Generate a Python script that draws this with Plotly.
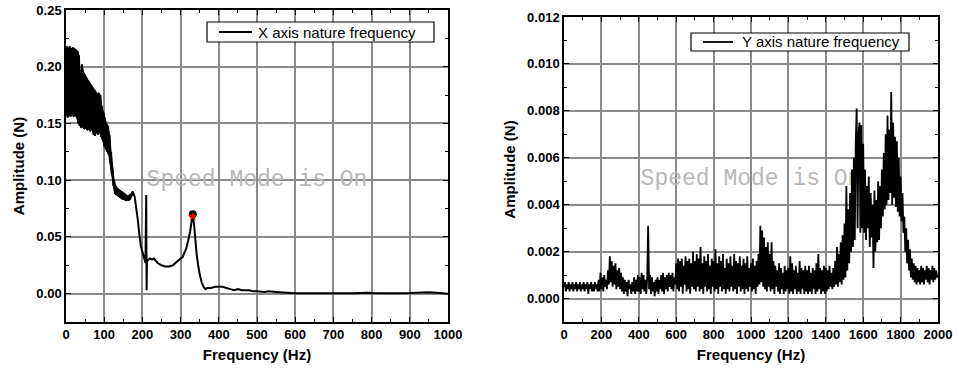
import plotly.graph_objects as go

# ---------------- Left chart: X axis nature frequency ----------------
# dense (noisy) part, read every 2 Hz from 0 to 178 Hz (alternating trough / crest)
x_dense_freq = list(range(0, 180, 2))
x_dense_amp = [
    0.160, 0.218, 0.155, 0.217, 0.157, 0.218, 0.156, 0.216, 0.158, 0.217,
    0.156, 0.216, 0.157, 0.215, 0.155, 0.214, 0.150, 0.210, 0.148, 0.192,
    0.146, 0.202, 0.147, 0.195, 0.145, 0.193, 0.146, 0.190, 0.144, 0.188,
    0.145, 0.186, 0.143, 0.184, 0.146, 0.182, 0.140, 0.180, 0.139, 0.178,
    0.142, 0.176, 0.140, 0.177, 0.142, 0.175, 0.138, 0.165, 0.135, 0.160,
    0.130, 0.155, 0.127, 0.150, 0.125, 0.148, 0.122, 0.140, 0.115, 0.125,
    0.105, 0.110, 0.095, 0.100, 0.088, 0.095, 0.087, 0.093, 0.086, 0.092,
    0.085, 0.091, 0.084, 0.090, 0.083, 0.089, 0.083, 0.088, 0.082, 0.087,
    0.082, 0.086, 0.082, 0.087, 0.083, 0.088, 0.086, 0.090, 0.089, 0.087,
]
# smooth part
x_smooth_freq = [180, 184, 188, 192, 196, 200, 204, 208, 210, 211, 212, 215, 220, 225, 230,
                 235, 240, 250, 260, 270, 280, 290, 300, 305, 310, 315, 320, 325, 329, 332,
                 335, 338, 342, 346, 350, 355, 360, 365, 370, 380, 390, 400, 410, 420, 430,
                 440, 450, 460, 470, 480, 490, 500, 520, 530, 550, 570, 600, 650, 700, 750,
                 790, 800, 850, 900, 950, 970, 1000]
x_smooth_amp = [0.085, 0.075, 0.065, 0.052, 0.042, 0.037, 0.032, 0.027, 0.087, 0.003, 0.028,
                0.030, 0.031, 0.030, 0.031, 0.029, 0.027, 0.025, 0.024, 0.024, 0.025, 0.028,
                0.031, 0.032, 0.036, 0.040, 0.047, 0.055, 0.064, 0.068, 0.062, 0.050, 0.035,
                0.025, 0.017, 0.010, 0.006, 0.004, 0.005, 0.005, 0.006, 0.006, 0.006, 0.005,
                0.004, 0.003, 0.004, 0.003, 0.003, 0.003, 0.002, 0.002, 0.0015, 0.002, 0.0015,
                0.001, 0.0003, 0.0004, 0.0003, 0.0004, 0.0008, 0.0006, 0.0004, 0.0005, 0.0012,
                0.0008, 0.0]
x_peak_freq = [332]
x_peak_circle = [0.070]
x_peak_star = [0.068]

# ---------------- Right chart: Y axis nature frequency ----------------
y_freq = list(range(0, 2005, 5))
y_amp = [
    # 0-95
    0.0005, 0.0007, 0.0003, 0.0006, 0.0004, 0.0007, 0.0003, 0.0006, 0.0004, 0.0007,
    0.0003, 0.0006, 0.0004, 0.0007, 0.0003, 0.0006, 0.0004, 0.0007, 0.0003, 0.0006,
    # 100-195
    0.0004, 0.0007, 0.0003, 0.0006, 0.0004, 0.0007, 0.0002, 0.0006, 0.0004, 0.0007,
    0.0003, 0.0006, 0.0003, 0.0007, 0.0004, 0.0006, 0.0003, 0.0008, 0.0003, 0.0011,
    # 200-295
    0.0004, 0.0009, 0.0003, 0.0010, 0.0005, 0.0008, 0.0004, 0.0012, 0.0006, 0.0018,
    0.0007, 0.0016, 0.0005, 0.0014, 0.0006, 0.0015, 0.0004, 0.0012, 0.0005, 0.0013,
    # 300-395
    0.0004, 0.0011, 0.0003, 0.0009, 0.0002, 0.0008, 0.0003, 0.0007, 0.0001, 0.0008,
    0.0004, 0.0006, 0.0002, 0.0007, 0.0003, 0.0009, 0.0002, 0.0008, 0.0003, 0.0010,
    # 400-495
    0.0003, 0.0009, 0.0002, 0.0011, 0.0004, 0.0010, 0.0003, 0.0008, 0.0002, 0.0009,
    0.0031, 0.0004, 0.0010, 0.0002, 0.0009, 0.0003, 0.0007, 0.0001, 0.0008, 0.0003,
    # 500-595
    0.0009, 0.0002, 0.0008, 0.0004, 0.0010, 0.0003, 0.0011, 0.0002, 0.0009, 0.0004,
    0.0010, 0.0003, 0.0011, 0.0005, 0.0010, 0.0004, 0.0011, 0.0003, 0.0009, 0.0006,
    # 600-695
    0.0015, 0.0004, 0.0017, 0.0003, 0.0016, 0.0005, 0.0017, 0.0002, 0.0014, 0.0006,
    0.0018, 0.0003, 0.0016, 0.0004, 0.0017, 0.0002, 0.0015, 0.0005, 0.0020, 0.0004,
    # 700-795
    0.0016, 0.0003, 0.0019, 0.0005, 0.0017, 0.0003, 0.0022, 0.0004, 0.0015, 0.0002,
    0.0018, 0.0005, 0.0016, 0.0003, 0.0019, 0.0004, 0.0014, 0.0002, 0.0017, 0.0005,
    # 800-895
    0.0016, 0.0003, 0.0021, 0.0004, 0.0015, 0.0002, 0.0018, 0.0005, 0.0016, 0.0003,
    0.0019, 0.0004, 0.0013, 0.0002, 0.0017, 0.0004, 0.0015, 0.0003, 0.0018, 0.0005,
    # 900-995
    0.0014, 0.0003, 0.0019, 0.0004, 0.0016, 0.0002, 0.0015, 0.0005, 0.0018, 0.0003,
    0.0014, 0.0004, 0.0017, 0.0002, 0.0015, 0.0004, 0.0018, 0.0003, 0.0013, 0.0005,
    # 1000-1095
    0.0015, 0.0003, 0.0017, 0.0004, 0.0014, 0.0002, 0.0016, 0.0005, 0.0019, 0.0006,
    0.0031, 0.0007, 0.0029, 0.0005, 0.0026, 0.0004, 0.0022, 0.0003, 0.0024, 0.0005,
    # 1100-1195
    0.0019, 0.0003, 0.0024, 0.0004, 0.0016, 0.0002, 0.0014, 0.0005, 0.0012, 0.0003,
    0.0015, 0.0002, 0.0013, 0.0004, 0.0011, 0.0002, 0.0014, 0.0003, 0.0012, 0.0004,
    # 1200-1295
    0.0013, 0.0002, 0.0018, 0.0003, 0.0015, 0.0002, 0.0012, 0.0004, 0.0014, 0.0002,
    0.0011, 0.0003, 0.0016, 0.0002, 0.0013, 0.0004, 0.0012, 0.0002, 0.0014, 0.0003,
    # 1300-1395
    0.0012, 0.0002, 0.0014, 0.0003, 0.0011, 0.0002, 0.0013, 0.0004, 0.0012, 0.0002,
    0.0015, 0.0003, 0.0019, 0.0004, 0.0013, 0.0002, 0.0012, 0.0003, 0.0014, 0.0002,
    # 1400-1495
    0.0013, 0.0003, 0.0012, 0.0004, 0.0014, 0.0005, 0.0011, 0.0004, 0.0013, 0.0005,
    0.0016, 0.0006, 0.0022, 0.0005, 0.0019, 0.0007, 0.0024, 0.0006, 0.0027, 0.0008,
    # 1500-1595
    0.0032, 0.0009, 0.0048, 0.0012, 0.0038, 0.0015, 0.0045, 0.0020, 0.0055, 0.0022,
    0.0060, 0.0025, 0.0066, 0.0081, 0.0030, 0.0070, 0.0075, 0.0028, 0.0074, 0.0030,
    # 1600-1695
    0.0066, 0.0028, 0.0055, 0.0025, 0.0048, 0.0030, 0.0052, 0.0022, 0.0045, 0.0026,
    0.0040, 0.0013, 0.0046, 0.0020, 0.0042, 0.0024, 0.0050, 0.0025, 0.0048, 0.0030,
    # 1700-1795
    0.0055, 0.0035, 0.0062, 0.0038, 0.0070, 0.0040, 0.0078, 0.0042, 0.0072, 0.0045,
    0.0088, 0.0040, 0.0075, 0.0043, 0.0069, 0.0039, 0.0067, 0.0037, 0.0060, 0.0035,
    # 1800-1895
    0.0052, 0.0033, 0.0045, 0.0028, 0.0035, 0.0020, 0.0030, 0.0015, 0.0025, 0.0012,
    0.0021, 0.0009, 0.0017, 0.0008, 0.0015, 0.0007, 0.0014, 0.0006, 0.0013, 0.0007,
    # 1900-1995
    0.0012, 0.0006, 0.0014, 0.0007, 0.0013, 0.0006, 0.0012, 0.0008, 0.0014, 0.0007,
    0.0013, 0.0006, 0.0012, 0.0008, 0.0014, 0.0007, 0.0013, 0.0008, 0.0012, 0.0009,
    # 2000
    0.0010,
]

legend_left = "X axis nature frequency"
legend_right = "Y axis nature frequency"
watermark = "Speed Mode is On"
W, H = 959, 369

fig = go.Figure()

# watermarks (under the data)
wm_font = dict(family="Liberation Mono", size=23, color="#b8b8b8")
fig.add_trace(go.Scatter(x=[500], y=[0.1], mode="text", text=[watermark], textfont=wm_font,
                         showlegend=False, hoverinfo="skip", xaxis="x", yaxis="y"))
fig.add_trace(go.Scatter(x=[1000], y=[0.0051], mode="text", text=[watermark], textfont=wm_font,
                         showlegend=False, hoverinfo="skip", xaxis="x2", yaxis="y2"))

# solid body of the dense oscillation band (between its troughs and crests)
band_lo_f = x_dense_freq[0::2]
band_lo_a = x_dense_amp[0::2]
band_hi_f = x_dense_freq[1::2]
band_hi_a = x_dense_amp[1::2]
fig.add_trace(go.Scatter(x=band_hi_f + band_lo_f[::-1], y=band_hi_a + band_lo_a[::-1],
                         mode="lines", fill="toself", fillcolor="black",
                         line=dict(color="black", width=1),
                         showlegend=False, hoverinfo="skip", xaxis="x", yaxis="y"))

fig.add_trace(go.Scatter(x=x_dense_freq + x_smooth_freq, y=x_dense_amp + x_smooth_amp,
                         mode="lines", line=dict(color="black", width=2.0, simplify=False),
                         name=legend_left, showlegend=False,
                         xaxis="x", yaxis="y"))
fig.add_trace(go.Scatter(x=x_peak_freq, y=x_peak_circle, mode="markers",
                         marker=dict(symbol="circle", color="black", size=8),
                         showlegend=False, xaxis="x", yaxis="y"))
fig.add_trace(go.Scatter(x=x_peak_freq, y=x_peak_star, mode="markers",
                         marker=dict(symbol="star", color="red", size=7),
                         showlegend=False, xaxis="x", yaxis="y"))

fig.add_trace(go.Scatter(x=y_freq, y=y_amp, mode="lines",
                         line=dict(color="black", width=1.8, simplify=False),
                         name=legend_right, showlegend=False,
                         xaxis="x2", yaxis="y2"))

tickfont = dict(family="Liberation Sans", size=13, color="black", weight="bold")
titlefont = dict(family="Liberation Sans", size=15, color="black", weight="bold")
grid = dict(showgrid=True, gridcolor="#8a8a8a", gridwidth=1.5, zeroline=False,
            showline=True, linecolor="black", linewidth=1.5, mirror="ticks",
            ticks="inside", ticklen=5, tickcolor="black", tickwidth=1.2,
            tickfont=tickfont, automargin=False)

def minor(d):
    return dict(dtick=d, ticks="inside", ticklen=3, tickcolor="black", tickwidth=1, showgrid=False)

# manual legend boxes (paper coordinates, pixel based)
def px_x(v):
    return v / W

def px_y(v):
    return 1 - v / H

shapes = []
annotations = []
for (bx0, bx1, by0, by1, lx0, lx1, tx, txt) in [
    (207, 434, 22, 42, 219, 252, 256, legend_left),
    (691, 909, 33, 51, 703, 733, 740, legend_right),
]:
    shapes.append(dict(type="rect", xref="paper", yref="paper",
                       x0=px_x(bx0), x1=px_x(bx1), y0=px_y(by1), y1=px_y(by0),
                       line=dict(color="black", width=1.2), fillcolor="white", layer="above"))
    ym = (by0 + by1) / 2
    shapes.append(dict(type="line", xref="paper", yref="paper",
                       x0=px_x(lx0), x1=px_x(lx1), y0=px_y(ym), y1=px_y(ym),
                       line=dict(color="black", width=1.8), layer="above"))
    annotations.append(dict(xref="paper", yref="paper", x=px_x(tx), y=px_y(ym),
                            xanchor="left", yanchor="middle", showarrow=False, text=txt,
                            font=dict(family="Liberation Sans", size=15, color="black")))

fig.update_layout(
    width=W, height=H, margin=dict(l=0, r=0, t=0, b=0, autoexpand=False),
    plot_bgcolor="white", paper_bgcolor="white", showlegend=False,
    shapes=shapes, annotations=annotations,
    xaxis=dict(domain=[66 / W, 448 / W], range=[0, 1000], dtick=100, tick0=0,
               minor=minor(50), anchor="y",
               title=dict(text="Frequency (Hz)", font=titlefont, standoff=8), **grid),
    yaxis=dict(domain=[1 - 322 / H, 1 - 10 / H], range=[-0.025, 0.25], dtick=0.05, tick0=0,
               tickformat=".2f", minor=minor(0.025), anchor="x",
               title=dict(text="Amplitude (N)", font=titlefont, standoff=8), **grid),
    xaxis2=dict(domain=[564 / W, 938 / W], range=[0, 2000], dtick=200, tick0=0,
                minor=minor(100), anchor="y2",
                title=dict(text="Frequency (Hz)", font=titlefont, standoff=8), **grid),
    yaxis2=dict(domain=[1 - 322 / H, 1 - 17 / H], range=[-0.001, 0.012], dtick=0.002, tick0=0,
                tickformat=".3f", minor=minor(0.001), anchor="x2",
                title=dict(text="Amplitude (N)", font=titlefont, standoff=8), **grid),
)

fig.write_html("out.html")
